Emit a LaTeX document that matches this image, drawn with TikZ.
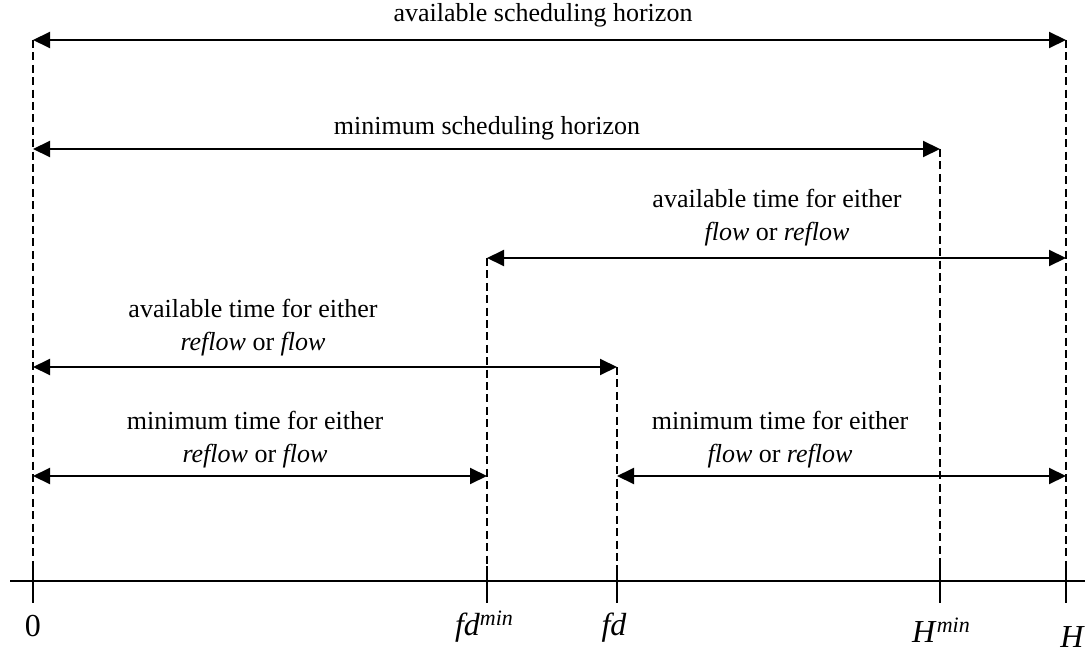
\documentclass[tikz,border=0pt]{standalone}
\usepackage{fontspec}
\setmainfont{Liberation Serif}
\usetikzlibrary{arrows.meta}

\newcommand{\supmin}{\raisebox{5pt}{\fontsize{11}{12}\selectfont\textit{min}}}

\tikzset{
  span/.style={<->, line width=1pt},
  guide/.style={line width=1pt, dash pattern=on 4pt off 2.2pt},
  lbl/.style={anchor=base, align=center, font=\fontsize{13}{16.5}\selectfont},
  ticklbl/.style={anchor=base, font=\fontsize{16}{18}\selectfont}
}

\begin{document}
\begin{tikzpicture}[x=0.5pt, y=-0.5pt, >={Triangle[length=8.5pt,width=8pt]}]
	\useasboundingbox (0,0) rectangle (1085,652);
	% time axis with its ticks and dashed guides
	\coordinate (axL) at (10,581);
	\coordinate (axR) at (1085,581);
	\draw[line width=1.2pt] (axL) -- (axR);
	\foreach \n / \x / \top in {zero/33/40, fdmin/487/258, fd/617/367, Hmin/940/149, H/1066/40} {
		\coordinate (\n) at (\x,581);
		\coordinate (\n-top) at (\x,\top);
		\draw[guide] (\n-top) -- (\n);
		\draw[line width=1pt] (\n) +(0,-15) -- +(0,22);
	}
	\coordinate (minrow) at (0,476);

	% spans
	\draw[span] (zero-top) -- (H-top);
	\draw[span] (zero |- Hmin-top) -- (Hmin-top);
	\draw[span] (fdmin-top) -- (H |- fdmin-top);
	\draw[span] (zero |- fd-top) -- (fd-top);
	\draw[span] (zero |- minrow) -- (fdmin |- minrow);
	\draw[span] (fd |- minrow) -- (H |- minrow);

	% span labels (base = last line)
	\node[lbl] (avail) at (543,22) {available scheduling horizon};
	\node[lbl] (minhor) at (487,135) {minimum scheduling horizon};
	\node[lbl] (availB) at (777,240) {available time for either\\\textit{flow} or \textit{reflow}};
	\node[lbl] (availA) at (253,350) {available time for either\\\textit{reflow} or \textit{flow}};
	\node[lbl] (minA) at (255,462) {minimum time for either\\\textit{reflow} or \textit{flow}};
	\node[lbl] (minB) at (780,462) {minimum time for either\\\textit{flow} or \textit{reflow}};

	% axis labels
	\node[ticklbl] (l0) at (33,636) {0};
	\node[ticklbl] (lfdmin) at (484,635) {\textit{fd}\supmin};
	\node[ticklbl] (lfd) at (614,635) {\textit{fd}};
	\node[ticklbl] (lHmin) at (941,642) {\textit{H}\supmin};
	\node[ticklbl, anchor=base west, inner sep=0pt] (lH) at (1060,647) {\textit{H}};
\end{tikzpicture}
\end{document}
